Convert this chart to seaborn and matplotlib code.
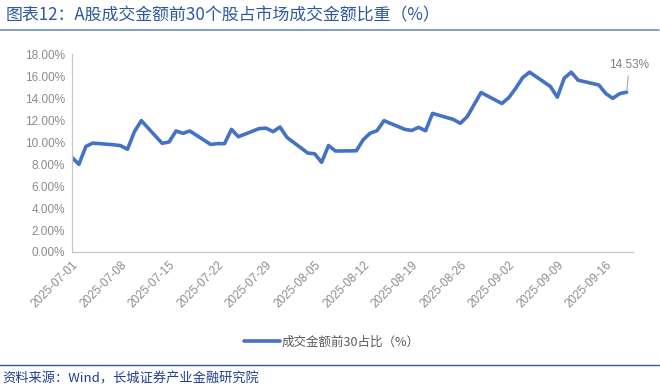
import matplotlib.pyplot as plt
import matplotlib.dates as mdates
from matplotlib.lines import Line2D
import pandas as pd
import seaborn as sns

# 데이터 (그림에서 읽은 값, 단위 %)
dates = ["2025-07-01", "2025-07-02", "2025-07-03", "2025-07-04", "2025-07-07",
         "2025-07-08", "2025-07-09", "2025-07-10", "2025-07-11", "2025-07-14",
         "2025-07-15", "2025-07-16", "2025-07-17", "2025-07-18", "2025-07-21",
         "2025-07-22", "2025-07-23", "2025-07-24", "2025-07-25", "2025-07-28",
         "2025-07-29", "2025-07-30", "2025-07-31", "2025-08-01", "2025-08-04",
         "2025-08-05", "2025-08-06", "2025-08-07", "2025-08-08", "2025-08-11",
         "2025-08-12", "2025-08-13", "2025-08-14", "2025-08-15", "2025-08-18",
         "2025-08-19", "2025-08-20", "2025-08-21", "2025-08-22", "2025-08-25",
         "2025-08-26", "2025-08-27", "2025-08-28", "2025-08-29", "2025-09-01",
         "2025-09-02", "2025-09-03", "2025-09-04", "2025-09-05", "2025-09-08",
         "2025-09-09", "2025-09-10", "2025-09-11", "2025-09-12", "2025-09-15",
         "2025-09-16", "2025-09-17", "2025-09-18", "2025-09-19"]
share = [8.60, 7.97, 9.60, 9.90, 9.75,
         9.67, 9.34, 10.94, 11.94, 9.88,
         10.00, 11.00, 10.79, 11.00, 9.78,
         9.85, 9.85, 11.15, 10.48, 11.22,
         11.26, 10.94, 11.36, 10.42, 9.00,
         8.93, 8.15, 9.68, 9.18, 9.20,
         10.20, 10.80, 11.03, 11.94, 11.15,
         11.05, 11.33, 11.02, 12.60, 12.05,
         11.70, 12.30, 13.40, 14.50, 13.50,
         14.03, 14.88, 15.85, 16.35, 15.05,
         14.08, 15.80, 16.35, 15.62, 15.18,
         14.40, 13.97, 14.40, 14.53]
tick_dates = ["2025-07-01", "2025-07-08", "2025-07-15", "2025-07-22",
              "2025-07-29", "2025-08-05", "2025-08-12", "2025-08-19",
              "2025-08-26", "2025-09-02", "2025-09-09", "2025-09-16"]
y_ticks = [0, 2, 4, 6, 8, 10, 12, 14, 16, 18]
series_name = "成交金额前30占比（%）"
title = "图表12：A股成交金额前30个股占市场成交金额比重（%）"
source = "资料来源：Wind，长城证券产业金融研究院"

df = pd.DataFrame({"date": pd.to_datetime(dates), "share": share})

sns.set_style("white")
plt.rcParams["font.family"] = ["Noto Sans CJK SC", "DejaVu Sans"]

fig = plt.figure(figsize=(6.6, 3.92), dpi=100)
ax = fig.add_axes([72 / 660, 1 - 252 / 392, (633 - 72) / 660, (252 - 54) / 392])

sns.lineplot(data=df, x="date", y="share", ax=ax, color="#4472C4",
             linewidth=2.6, label=series_name, legend=False)

ax.set_ylim(0, 18)
ax.set_xlim(pd.Timestamp("2025-07-01"), pd.Timestamp("2025-09-19 22:00"))
ax.set_yticks(y_ticks)
ax.set_yticklabels([f"{v:.2f}%" for v in y_ticks], fontfamily="Liberation Sans",
                   fontsize=8.5, color="#8c8c8c")
ax.set_xticks(pd.to_datetime(tick_dates))
ax.xaxis.set_major_formatter(mdates.DateFormatter("%Y-%m-%d"))
for lab in ax.get_xticklabels():
    lab.set_rotation(45)
    lab.set_ha("right")
    lab.set_rotation_mode("anchor")
    lab.set_fontfamily("Liberation Sans")
    lab.set_fontsize(8.5)
    lab.set_color("#8c8c8c")
ax.set_xlabel("")
ax.set_ylabel("")
ax.tick_params(axis="both", length=3, width=0.8, color="#bfbfbf", pad=2,
               direction="out")
sns.despine(ax=ax)
for s in ["left", "bottom"]:
    ax.spines[s].set_color("#c8c8c8")
    ax.spines[s].set_linewidth(0.9)

# 마지막 값 라벨
ax.annotate(f"{share[-1]:.2f}%", xy=(df["date"].iloc[-1], share[-1]),
            xytext=(2, 15), textcoords="offset points", ha="center", va="bottom",
            fontfamily="Liberation Sans", fontsize=8.5, color="#7f7f7f",
            arrowprops=dict(arrowstyle="-", color="#a6a6a6", lw=0.8,
                            shrinkA=1, shrinkB=1))

fig.legend(handles=[Line2D([], [], color="#4472C4", linewidth=2.6)],
           labels=[series_name], loc="center", bbox_to_anchor=(0.503, 1 - 342 / 392),
           frameon=False, fontsize=9, handlelength=2.9, handletextpad=0.15,
           labelcolor="#595959")

# 제목 / 출처
fig.text(0.008, 1 - 15 / 392, title, fontsize=12.2, color="#2E5A9C",
         ha="left", va="center")
fig.add_artist(Line2D([0.0, 0.998], [1 - 30 / 392, 1 - 30 / 392],
                      transform=fig.transFigure, color="#6f8fc4", linewidth=1.2))
fig.add_artist(Line2D([0.0, 0.998], [1 - 365 / 392, 1 - 365 / 392],
                      transform=fig.transFigure, color="#2E5A9C", linewidth=1.0))
fig.text(0.004, 1 - 379 / 392, source, fontsize=9.5, color="#1F3F8F",
         ha="left", va="center")

plt.savefig("out.png", dpi=100)
